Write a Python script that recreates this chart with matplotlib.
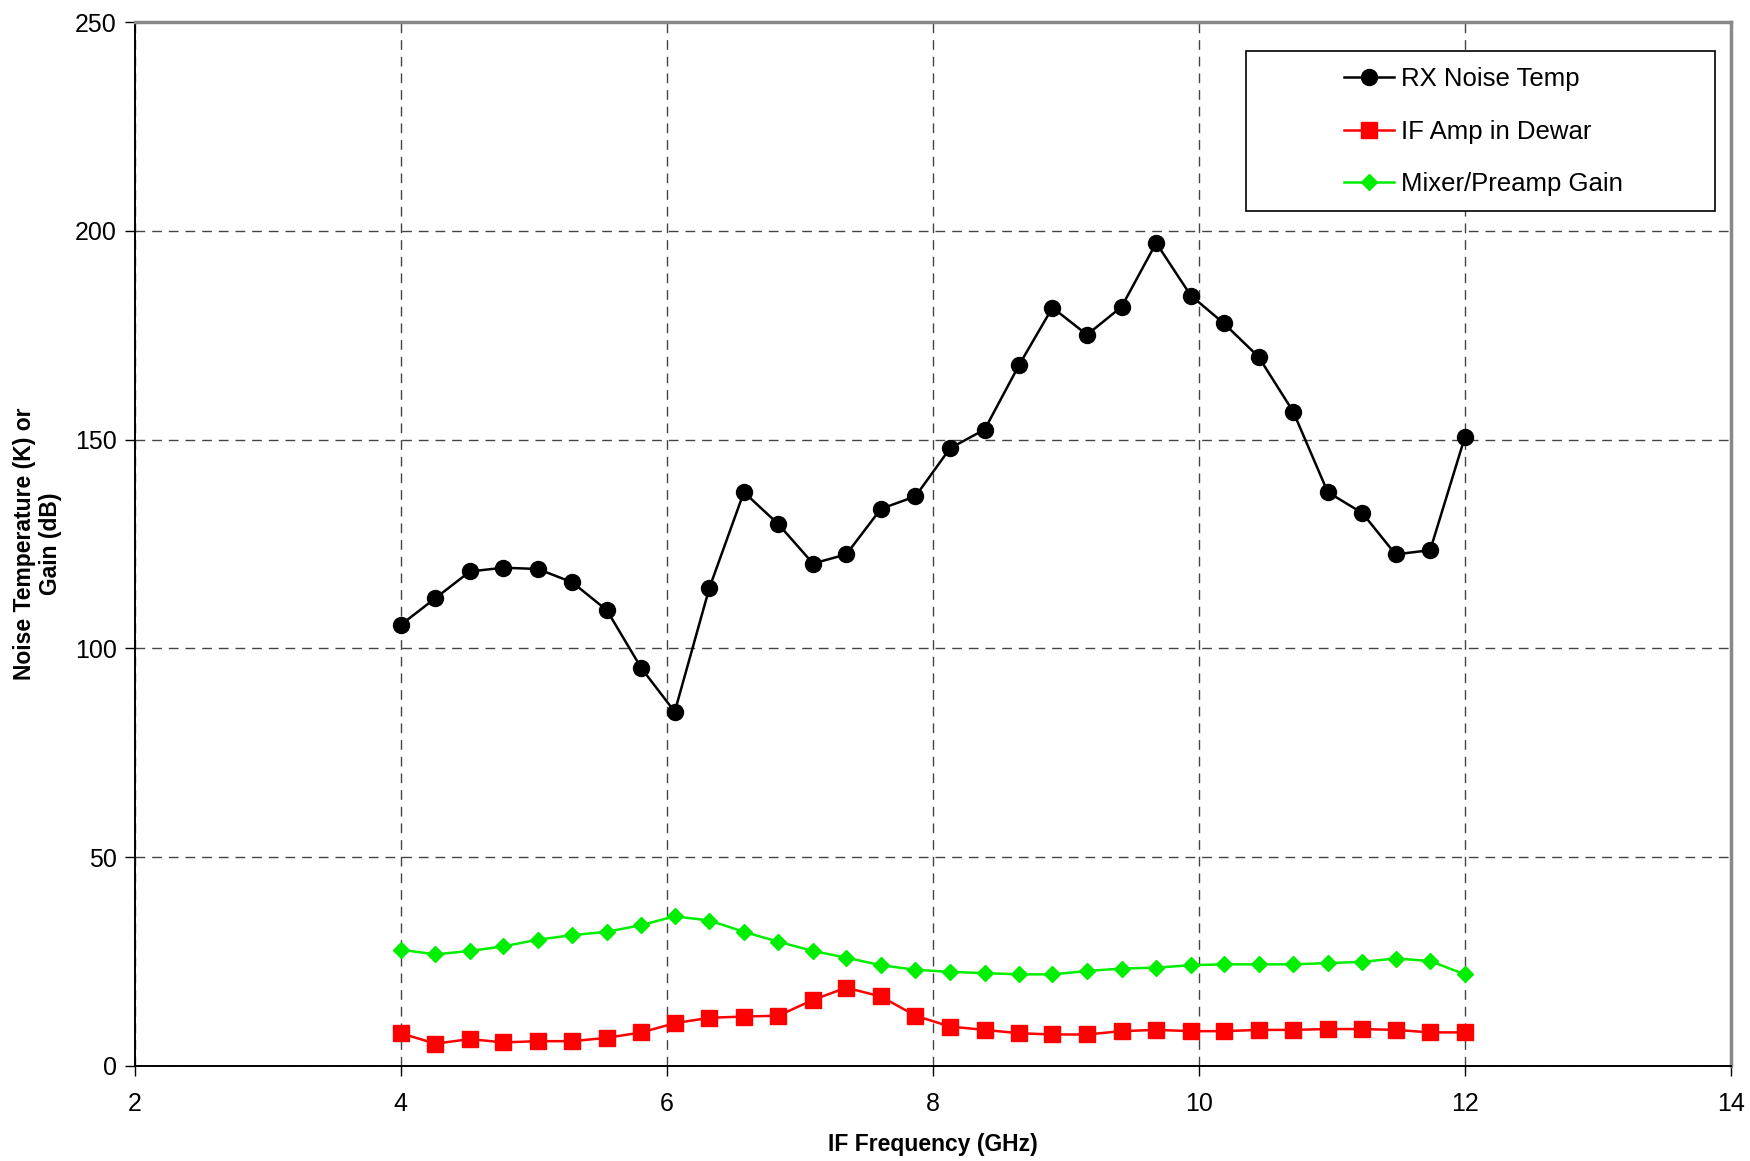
import numpy as np
import matplotlib
matplotlib.use('Agg')
import matplotlib.pyplot as plt
from matplotlib.patches import Rectangle

plt.rcParams['font.family'] = ['Liberation Sans', 'DejaVu Sans']

# IF frequency points (GHz)
freq = [4.00, 4.26, 4.52, 4.77, 5.03, 5.29, 5.55, 5.81, 6.06, 6.32, 6.58,
        6.84, 7.10, 7.35, 7.61, 7.87, 8.13, 8.39, 8.65, 8.90, 9.16, 9.42,
        9.68, 9.94, 10.19, 10.45, 10.71, 10.97, 11.23, 11.48, 11.74, 12.00]

rx_noise = [105.6, 112.0, 118.4, 119.3, 119.0, 115.8, 109.1, 95.2, 84.8, 114.4, 137.4,
            129.7, 120.3, 122.5, 133.4, 136.4, 147.9, 152.4, 167.9, 181.6, 175.1, 181.8,
            197.1, 184.5, 177.8, 169.8, 156.7, 137.4, 132.4, 122.5, 123.5, 150.5]

if_amp = [7.8, 5.3, 6.4, 5.6, 5.9, 5.9, 6.7, 8.0, 10.2, 11.5, 11.8,
          12.0, 15.8, 18.7, 16.6, 12.0, 9.4, 8.6, 7.8, 7.5, 7.5, 8.3,
          8.6, 8.3, 8.3, 8.6, 8.6, 8.8, 8.8, 8.6, 8.0, 8.0]

mixer_gain = [27.8, 26.7, 27.5, 28.6, 30.2, 31.3, 32.1, 33.7, 35.8, 34.8, 32.1,
              29.7, 27.5, 25.9, 24.1, 23.0, 22.5, 22.2, 21.9, 21.9, 22.7, 23.3,
              23.5, 24.1, 24.3, 24.3, 24.3, 24.6, 24.9, 25.7, 25.1, 21.9]

fig = plt.figure(figsize=(17.5, 11.61), dpi=100)
ax = fig.add_axes([0.077, 0.082, 0.912, 0.899])

ax.plot(freq, rx_noise, color='black', lw=1.8, marker='o', markersize=11.5,
        label='RX Noise Temp')
ax.plot(freq, if_amp, color='#ff0000', lw=1.8, marker='s', markersize=11.5,
        label='IF Amp in Dewar')
ax.plot(freq, mixer_gain, color='#00ee00', lw=1.8, marker='D', markersize=8.5,
        label='Mixer/Preamp Gain')

ax.set_xlim(2, 14)
ax.set_ylim(0, 250)
ax.set_xticks([2, 4, 6, 8, 10, 12, 14])
ax.set_yticks([0, 50, 100, 150, 200, 250])

ax.grid(True, color='#444444', linestyle=(0, (7, 5)), linewidth=1.0)
ax.set_axisbelow(True)

ax.spines['left'].set_color('black')
ax.spines['bottom'].set_color('black')
ax.spines['left'].set_linewidth(1.4)
ax.spines['bottom'].set_linewidth(1.4)
ax.spines['top'].set_color('#888888')
ax.spines['right'].set_color('#888888')
ax.spines['top'].set_linewidth(2.5)
ax.spines['right'].set_linewidth(2.5)

ax.tick_params(direction='out', length=7, width=1, labelsize=18)
ax.tick_params(axis='x', pad=12)
ax.tick_params(axis='y', pad=6)

ax.set_xlabel('IF Frequency (GHz)', fontsize=16.5, fontweight='bold', labelpad=12)
ax.set_ylabel('Noise Temperature (K) or\nGain (dB)', fontsize=16.5,
              fontweight='bold', labelpad=9)

# legend frame drawn separately (wide box, entries centred inside)
ax.add_patch(Rectangle((0.6965, 0.819), 0.2935, 0.153, transform=ax.transAxes,
                       facecolor='white', edgecolor='black', lw=1.2, zorder=5))
leg = ax.legend(loc='center', bbox_to_anchor=(0.845, 0.895), fontsize=18.5,
                frameon=False, handlelength=1.95, labelspacing=1.1,
                handletextpad=0.3, borderpad=0, borderaxespad=0)
leg.set_zorder(6)

fig.savefig('out.png', dpi=100, facecolor='white')
